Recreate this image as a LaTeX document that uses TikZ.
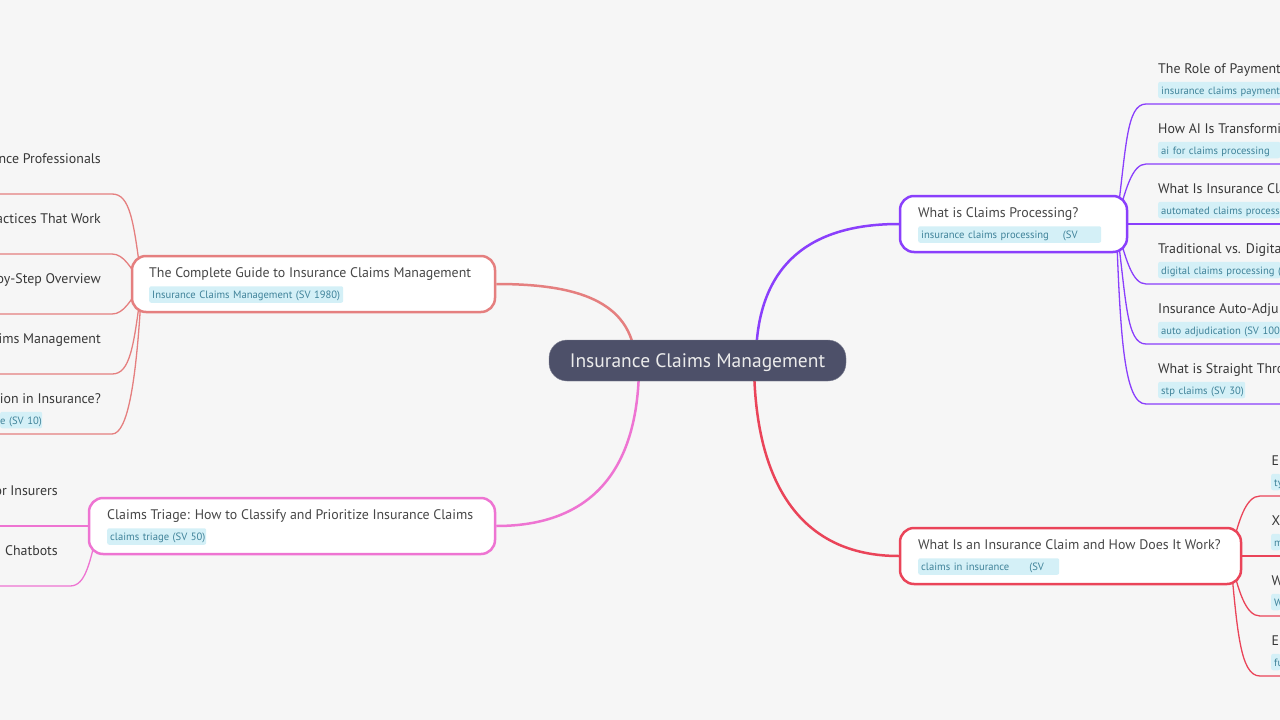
\documentclass[tikz,border=0pt]{standalone}
\usepackage{fontspec}
\usepackage{xcolor}
\usetikzlibrary{backgrounds}
\setmainfont{PT Sans}

\definecolor{paper}{HTML}{F6F6F6}
\definecolor{rootfill}{HTML}{4D5069}
\definecolor{guideline}{HTML}{E57F7F}
\definecolor{triageline}{HTML}{EE74D2}
\definecolor{processline}{HTML}{8A3FFC}
\definecolor{claimline}{HTML}{EA4459}
\definecolor{tagfill}{HTML}{D4F0F7}
\definecolor{tagtext}{HTML}{3F8299}

\begin{document}
\begin{tikzpicture}
  [x=1pt,y=-1pt,
   branch/.style={draw,fill=white,line width=2.5pt,rounded corners=14pt,
     minimum height=56pt,inner sep=0pt},
   heading/.style={anchor=base west,inner sep=0pt,text=black!72,font=\fontsize{13.9}{16}\selectfont},
   leaf/.style={heading,text=black!78},
   tagbox/.style={anchor=west,fill=tagfill,text=tagtext,rounded corners=2pt,inner xsep=3pt,
     inner ysep=0pt,text height=10.5pt,text depth=2.5pt,minimum height=16.5pt,align=left,
     font=\fontsize{10.6}{13}\selectfont},
   wire/.style={line width=1.3pt,line cap=round},
   trunk/.style={line width=2.5pt}]

  \useasboundingbox (0,0) rectangle (1280,720);
  \coordinate (farleft) at (0,0);
  \coordinate (farright) at (1280,0);

  \node[fill=rootfill,draw=rootfill!70,rounded corners=18pt,minimum width=297pt,minimum height=41pt,
    inner sep=0pt,text height=16pt,text depth=2pt,text=white!92!black,font=\fontsize{19.5}{22}\selectfont]
    (root) at (697.5,360.5) {Insurance Claims Management};

  \node[branch,draw=guideline,minimum width=363pt] (guide) at (313.5,284) {};
  \node[branch,draw=triageline,minimum width=406pt] (triage) at (292,526) {};
  \node[branch,draw=processline,minimum width=227pt] (process) at (1013.5,224) {};
  \node[branch,draw=claimline,minimum width=341pt] (claim) at (1070.5,556) {};

  \node[heading] (guidetitle) at (149,277) {The Complete Guide to Insurance Claims Management};
  \node[tagbox,text width=188pt] (guidetag) at (149,294.5) {\mbox{Insurance Claims Management (SV 1980)}};
  \node[heading] (triagetitle) at (107,519) {Claims Triage: How to Classify and Prioritize Insurance Claims};
  \node[tagbox,text width=93pt] (triagetag) at (107,536.5) {\mbox{claims triage (SV 50)}};
  \node[heading] (processtitle) at (918,217) {What is Claims Processing?};
  \node[tagbox,text width=177pt] (processtag) at (918,234.5) {\mbox{insurance claims processing\hspace{14pt}(SV}};
  \node[heading] (claimtitle) at (918,549) {What Is an Insurance Claim and How Does It Work?};
  \node[tagbox,text width=135pt] (claimtag) at (918,566.5) {\mbox{claims in insurance\hspace{20pt}(SV}};

  % cut off by the right side
  \foreach \leaf/\y/\title/\tag/\w in {
      pay/104/The Role of Payment/insurance claims payment/116,
      ai/164/How AI Is Transformi/ai for claims processing/116,
      what/224/What Is Insurance Cla/automated claims process/116,
      trad/284/Traditional vs. Digita/digital claims processing (/116,
      auto/344/Insurance Auto-Adju/auto adjudication (SV 100/116,
      stp/404/What is Straight Thro/stp claims (SV 30)/81}
  {
    \node[leaf] (\leaf) at (1158,\y-31) {\title};
    \node[tagbox,text width=\w pt] (\leaf tag) at (1158,\y-14) {\mbox{\tag}};
    \coordinate (\leaf end) at (1146,\y);
  }
  \foreach \leaf/\y/\title/\tag in {
      ex/496/E/ty,xa/556/X/m,wh/616/W/W,fu/676/E/fu}
  {
    \node[leaf] (\leaf) at (1271.5,\y-31) {\title};
    \node[tagbox,text width=3pt] (\leaf tag) at (1271,\y-14) {\mbox{\tag}};
    \coordinate (\leaf end) at (1260,\y);
  }

  % cut off by the left side
  \foreach \leaf/\y/\title in {
      prof/194/nce Professionals,
      work/254/actices That Work,
      step/314/oy-Step Overview,
      mgmt/374/ims Management,
      fraud/434/ion in Insurance?}
  {
    \node[leaf,anchor=base east] (\leaf) at (101,\y-31) {\title};
    \coordinate (\leaf end) at (112,\y);
  }
  \node[tagbox,text width=42pt,inner xsep=0pt] (fraudtag) at (0,420) {\mbox{e (SV 10)}};
  \node[leaf,anchor=base east] (insurers) at (58,495) {or Insurers};
  \node[leaf,anchor=base east] (chatbots) at (58,555) {Chatbots};
  \coordinate (chatbotsend) at (70,586);

  \begin{scope}[on background layer]
    \fill[paper] (0,0) rectangle (1280,720);

    \draw[trunk,guideline] (guide.east) .. controls +(80,0) and +(-4,-60) .. ([xshift=-62pt]root.center);
    \draw[trunk,triageline] (triage.east) .. controls +(95,0) and +(1,110) .. ([xshift=-58.5pt]root.center);
    \draw[trunk,processline] (process.west) .. controls +(-105,0) and +(0,-80) .. ([xshift=58.5pt]root.center);
    \draw[trunk,claimline] (claim.west) .. controls +(-100,0) and +(0,120) .. ([xshift=56.5pt]root.center);

    \foreach \to/\ax/\ay/\bx in {
        pay/10/-75/-20,ai/9/-34/-14,trad/9/34/-14,auto/10/75/-20,stp/4/112/-22}
      \draw[wire,processline] ([xshift=-12pt]process.east) .. controls +(\ax,\ay) and +(\bx,0) .. (\to end) -- (\to end -| farright);
    \draw[wire,processline] (process.east) -- (process.east -| farright);

    \foreach \to/\ax/\ay/\bx in {ex/8/-36/-14,wh/8/36/-14,fu/7/74/-20}
      \draw[wire,claimline] ([xshift=-12pt]claim.east) .. controls +(\ax,\ay) and +(\bx,0) .. (\to end) -- (\to end -| farright);
    \draw[wire,claimline] (claim.east) -- (claim.east -| farright);

    \foreach \to/\ax/\ay/\bx in {
        prof/-8/-64/18,work/-11/-16/12,step/-11/16/12,mgmt/-8/64/18,fraud/-5/96/16}
      \draw[wire,guideline] ([xshift=11pt]guide.west) .. controls +(\ax,\ay) and +(\bx,0) .. (\to end) -- (\to end -| farleft);

    \draw[wire,triageline] (triage.west) -- (triage.west -| farleft);
    \draw[wire,triageline] ([xshift=11pt]triage.west) .. controls +(-9,36) and +(16,0) .. (chatbotsend) -- (chatbotsend -| farleft);
  \end{scope}
\end{tikzpicture}
\end{document}
